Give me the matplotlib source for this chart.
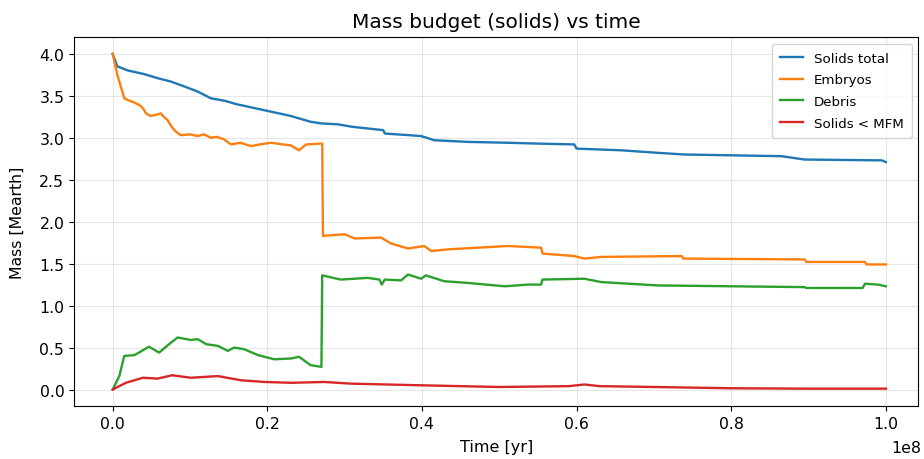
import numpy as np
import matplotlib
matplotlib.use("Agg")
import matplotlib.pyplot as plt

# Time in units of 1e8 yr, masses in Earth masses
t_total = [0, 0.006, 0.02, 0.04, 0.058, 0.075, 0.09, 0.11, 0.127, 0.145, 0.16, 0.18, 0.2, 0.23,
           0.256, 0.27, 0.291, 0.31, 0.35, 0.352, 0.399, 0.416, 0.46, 0.51, 0.55, 0.597, 0.600,
           0.658, 0.705, 0.74, 0.865, 0.895, 0.995, 1.0]
m_total = [4.0, 3.85, 3.80, 3.76, 3.71, 3.67, 3.62, 3.55, 3.47, 3.44, 3.40, 3.36, 3.32, 3.26,
           3.19, 3.17, 3.16, 3.13, 3.09, 3.05, 3.02, 2.97, 2.95, 2.94, 2.93, 2.92, 2.87,
           2.85, 2.82, 2.80, 2.78, 2.74, 2.73, 2.71]

t_emb = [0, 0.006, 0.015, 0.022, 0.028, 0.032, 0.036, 0.040, 0.043, 0.049, 0.055, 0.062, 0.066,
         0.071, 0.077, 0.082, 0.088, 0.10, 0.11, 0.118, 0.127, 0.135, 0.144, 0.153, 0.165, 0.179,
         0.19, 0.205, 0.22, 0.23, 0.241, 0.25, 0.269, 0.271, 0.272, 0.30, 0.313, 0.347, 0.36,
         0.382, 0.403, 0.412, 0.434, 0.511, 0.554, 0.556, 0.597, 0.61, 0.632, 0.736, 0.738,
         0.895, 0.897, 0.973, 0.975, 1.0]
m_emb = [4.0, 3.75, 3.47, 3.44, 3.42, 3.40, 3.38, 3.34, 3.29, 3.26, 3.27, 3.29, 3.25,
         3.21, 3.12, 3.07, 3.03, 3.04, 3.02, 3.04, 3.00, 3.01, 2.98, 2.92, 2.94, 2.90,
         2.92, 2.94, 2.92, 2.91, 2.85, 2.92, 2.93, 2.93, 1.83, 1.85, 1.80, 1.81, 1.74,
         1.68, 1.71, 1.65, 1.67, 1.71, 1.69, 1.62, 1.59, 1.56, 1.58, 1.59, 1.56,
         1.55, 1.52, 1.52, 1.49, 1.49]

t_deb = [0, 0.0086, 0.015, 0.028, 0.034, 0.047, 0.06, 0.073, 0.084, 0.101, 0.11, 0.121, 0.136,
         0.149, 0.157, 0.17, 0.188, 0.209, 0.231, 0.241, 0.256, 0.270, 0.271, 0.295, 0.33,
         0.345, 0.348, 0.352, 0.373, 0.382, 0.399, 0.405, 0.429, 0.459, 0.507, 0.537, 0.554,
         0.556, 0.61, 0.632, 0.705, 0.895, 0.897, 0.97, 0.973, 0.99, 1.0]
m_deb = [0.0, 0.16, 0.40, 0.41, 0.44, 0.51, 0.44, 0.54, 0.62, 0.59, 0.60, 0.54, 0.52,
         0.46, 0.50, 0.48, 0.41, 0.36, 0.37, 0.39, 0.29, 0.27, 1.36, 1.31, 1.33,
         1.31, 1.25, 1.31, 1.30, 1.37, 1.32, 1.36, 1.29, 1.27, 1.23, 1.25, 1.25,
         1.31, 1.32, 1.28, 1.24, 1.22, 1.21, 1.21, 1.26, 1.25, 1.23]

t_mfm = [0, 0.017, 0.039, 0.058, 0.077, 0.101, 0.136, 0.166, 0.196, 0.231, 0.274, 0.308, 0.4,
         0.5, 0.59, 0.61, 0.63, 0.7, 0.8, 0.9, 1.0]
m_mfm = [0.0, 0.08, 0.14, 0.13, 0.17, 0.14, 0.16, 0.11, 0.09, 0.08, 0.09, 0.07, 0.05,
         0.03, 0.04, 0.06, 0.04, 0.03, 0.015, 0.01, 0.01]

series = [
    ("Solids total", t_total, m_total),
    ("Embryos", t_emb, m_emb),
    ("Debris", t_deb, m_deb),
    ("Solids < MFM", t_mfm, m_mfm),
]

W, H = 924, 460
fig = plt.figure(figsize=(W / 100, H / 100), dpi=100)
ax = fig.add_axes([74 / W, (H - 407.3) / H, (918.3 - 74) / W, (407.3 - 38) / H])

for label, t, m in series:
    ax.plot(np.asarray(t) * 1e8, m, label=label, lw=1.7)

ax.set_xlim(-0.05e8, 1.042e8)
ax.set_ylim(-0.2, 4.2)

ax.set_title("Mass budget (solids) vs time", fontsize=14.5, pad=7)
ax.set_xlabel("Time [yr]", fontsize=11.5, labelpad=6)
ax.set_ylabel("Mass [Mearth]", fontsize=11.3, labelpad=10)
ax.tick_params(labelsize=11.3)
ax.grid(True, alpha=0.3)
ax.legend(loc="upper right", fontsize=9.6, labelspacing=0.65, borderpad=0.6,
          handlelength=1.75)

# place the axis multiplier a bit lower, beside the x label
fig.canvas.draw()
offset = ax.xaxis.get_major_formatter().get_offset()
ax.xaxis.get_offset_text().set_visible(False)
fig.text(921.5 / W, 1 - 449 / H, offset, ha="right", va="center", fontsize=11.3)

fig.savefig("out.png", dpi=100)
